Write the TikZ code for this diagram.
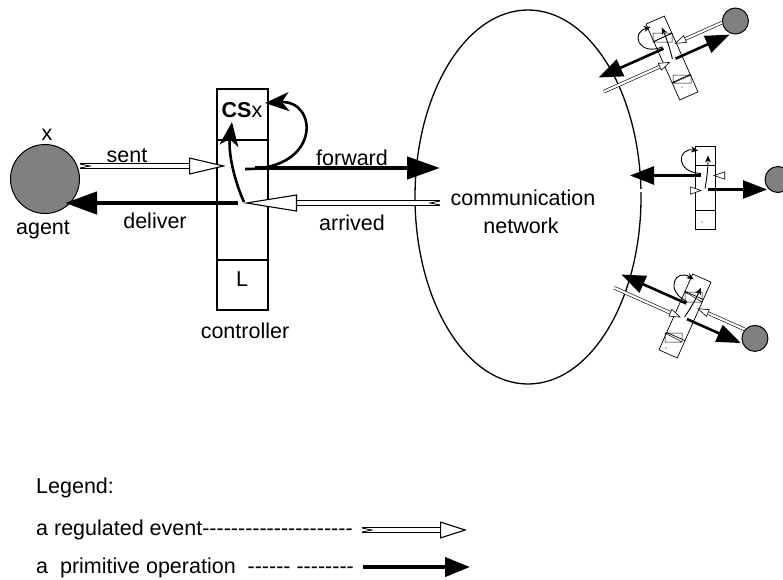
\documentclass[tikz,border=0pt]{standalone}
\usepackage{fontspec}
\setmainfont{Liberation Sans}[Ligatures=TeXOff]
\usetikzlibrary{arrows.meta,shapes.geometric,positioning,calc}

\tikzset{
  lbl/.style={font=\fontsize{21.5}{24}\selectfont, inner sep=0pt, anchor=base},
  agentdisc/.style={circle, draw, fill=gray, line width=1pt, inner sep=0pt},
  cellbox/.style={draw, line width=1.3pt, inner sep=0pt},
  % a regulated event: hollow double arrow
  regulated/.style={draw=black, line width=1.1pt, double=white, double distance=3.4pt,
    -{Triangle[fill=white, line width=1.1pt, length=#1, width=17pt]}},
  regulated/.default=36pt,
  % notch at the tail of a regulated event
  tailnotch/.pic={\draw[line width=0.8pt] (0,-2) -- (10,0) -- (0,2);},
  % a primitive operation: solid black arrow
  primitive/.style={line width=4.5pt, -{Triangle[length=#1, width=22pt]}},
  primitive/.default=32pt,
  curvearrow/.style={line width=2.6pt, -{Stealth[length=24pt, width=19pt, inset=7pt]}},
  smallreg/.style={draw=black, line width=0.6pt, double=white, double distance=2.2pt,
    -{Triangle[fill=white, line width=0.6pt, length=12pt, width=8pt]}},
  smallprim/.style={line width=2.6pt, -{Triangle[length=24pt, width=18pt]}},
  thinarrow/.style={line width=0.9pt, -{Stealth[length=7pt, width=6pt]}},
}

\begin{document}
\begin{tikzpicture}[x=1pt, y=-1pt]
  \useasboundingbox (0,0) rectangle (783,579);

  % Network
  \node[ellipse, draw, line width=1.3pt, minimum width=226pt, minimum height=374pt, inner sep=0pt] (net) at (528,197) {};
  \node[lbl] (comm) at (523,205) {communication};
  \node[lbl] (netw) at (521,233) {network};

  % Agent
  \node[agentdisc, minimum size=69pt] (agent) at (45,179) {};
  \node[lbl] (agentx) at (47,140) {x};
  \node[lbl] (agentlbl) at (43,234) {agent};

  % Controller
  \node[cellbox, minimum width=51pt, minimum height=221pt] (ctrl) at (242.5,199.5) {};
  \draw[line width=1.3pt] (ctrl.west |- 0,140) -- (ctrl.east |- 0,140);
  \draw[line width=1.3pt] (ctrl.west |- 0,260) -- (ctrl.east |- 0,260);
  \node[lbl] (cs) at (242,117) {\textbf{CS}x};
  \node[lbl] (lcell) at (242,286) {L};
  \node[lbl] (ctrllbl) at (245,338) {controller};

  % Events and operations
  \coordinate (sentA) at (80,166);
  \coordinate (sentB) at (226,166);
  \coordinate (fwdA) at (255,168);
  \coordinate (fwdB) at (440,168);
  \coordinate (delA) at (238,203);
  \coordinate (delB) at (65,203);
  \coordinate (arrA) at (440,203);
  \coordinate (arrB) at (243,203);
  \coordinate (upA) at (244,202);
  \coordinate (upB) at (232,122);
  \coordinate (loopA) at (245,169);
  \coordinate (loopB) at (265,103);

  \draw[regulated=37pt] (sentA) -- (sentB);
  \pic at (sentA) {tailnotch};
  \draw[primitive=33pt] (fwdA) -- (fwdB);
  \draw[primitive] (delA) -- (delB);
  \draw[regulated=54pt] (arrA) -- (arrB);
  \pic[rotate=180] at (arrA) {tailnotch};
  \draw[curvearrow] (upA) .. controls (234,180) and (228,152) .. (upB);
  \draw[curvearrow] (loopA) .. controls (322,170) and (318,100) .. (loopB);

  \node[lbl] (sentlbl) at (127,162) {sent};
  \node[lbl] (fwdlbl) at (352,165) {forward};
  \node[lbl] (dellbl) at (155,228) {deliver};
  \node[lbl] (arrlbl) at (352,230) {arrived};

  % Other controllers around the network
  \foreach \sx/\sy/\ang [count=\i] in {672/58/24, 705/187.5/0, 685/316/-24}{
    \begin{scope}[shift={(\sx,\sy)}, rotate=\ang]
      \node[draw, line width=0.7pt, minimum width=20pt, minimum height=83pt, inner sep=0pt, transform shape] (sbox\i) at (0,0) {};
      \draw[line width=0.7pt] (-10,-22.5) -- (10,-22.5);
      \draw[line width=0.7pt] (-10,22.5) -- (10,22.5);
      \node[agentdisc, minimum size=26pt] (sag\i) at (73,-8) {};
      \coordinate (sregA\i) at (60,-12);
      \coordinate (sregB\i) at (8,-12);
      \coordinate (sfwdA\i) at (-4,-12);
      \coordinate (sfwdB\i) at (-75,-12);
      \coordinate (sarrA\i) at (-76,3);
      \coordinate (sarrB\i) at (-3,3);
      \coordinate (sdelA\i) at (3,2);
      \coordinate (sdelB\i) at (62,2);
      \draw[smallreg] (sregA\i) -- (sregB\i);
      \draw[smallprim] (sfwdA\i) -- (sfwdB\i);
      \draw[smallreg] (sarrA\i) -- (sarrB\i);
      \draw[smallprim] (sdelA\i) -- (sdelB\i);
      \draw[thinarrow] (-4,-14) .. controls (-30,-15) and (-28,-40) .. (-7,-37);
      \draw[thinarrow] (0,1) .. controls (2,-10) and (3,-20) .. (3,-32);
    \end{scope}
  }
  % cell marks
  \draw[line width=0.5pt] (653,33) rectangle (672,42) (653,42) -- (672,33);
  \draw[line width=0.5pt] (673,75) rectangle (691,83) (673,83) -- (691,75);
  \draw[line width=0.5pt] (685,292) rectangle (702,302) (685,292) -- (702,302);
  \draw[line width=0.5pt] (665,333) rectangle (682,342) (665,333) -- (682,342);
  \fill (682,87) circle (0.7);
  \fill (702,222) circle (0.7);
  \fill (666,348) circle (0.7);

  % Legend
  \node[lbl, anchor=base west] (legend) at (36,493) {Legend:};
  \node[lbl, anchor=base west] (legreg) at (36,535) {a regulated event---------------------};
  \node[lbl, anchor=base west] (legprim) at (36,573) {a\ \ primitive operation\ \ ------ --------};
  \coordinate (lregA) at (362,530);
  \coordinate (lregB) at (467,530);
  \coordinate (lprimA) at (363,567);
  \coordinate (lprimB) at (470,567);
  \draw[regulated=27pt] (lregA) -- (lregB);
  \pic at (lregA) {tailnotch};
  \draw[line width=4pt, -{Triangle[length=25pt, width=19pt]}] (lprimA) -- (lprimB);
\end{tikzpicture}
\end{document}
